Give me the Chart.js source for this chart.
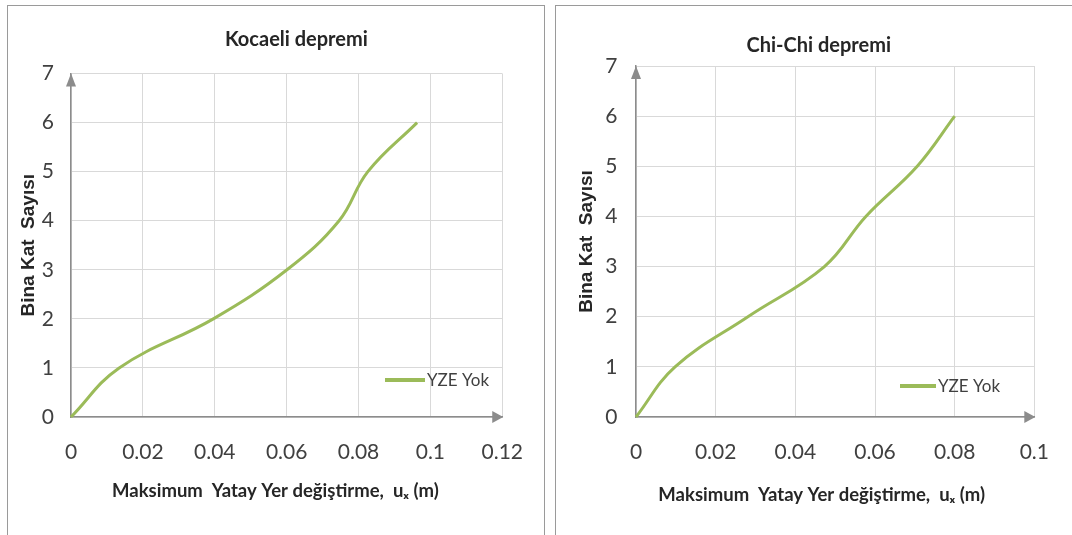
<!DOCTYPE html>
<html>
  <head>
    <meta charset="UTF-8" />
    <title>Kocaeli / Chi-Chi depremi</title>
    <style>
      html,
      body {
        margin: 0;
        padding: 0;
        width: 100%;
        height: 100%;
        background: #fff;
        overflow: hidden;
      }
      .panel {
        position: absolute;
        border: 1px solid #9a9a9a;
        box-sizing: border-box;
      }
      #panelLeft { left: 7px; top: 5px; width: 538px; height: 545px; }
      #panelRight { left: 555px; top: 5px; width: 540px; height: 545px; }
      .chart-box { position: absolute; top: 0; height: 535px; }
      #boxLeft { left: 0; width: 546px; }
      #boxRight { left: 546px; width: 526px; }
    </style>
    <script src="https://cdn.jsdelivr.net/npm/chart.js"></script>
  </head>
  <body>
    <div class="panel" id="panelLeft"></div>
    <div class="panel" id="panelRight"></div>
    <div class="chart-box" id="boxLeft"><canvas id="chartLeft"></canvas></div>
    <div class="chart-box" id="boxRight"><canvas id="chartRight"></canvas></div>
    <script>
      // veriler (kat sayısı - maksimum yatay yer değiştirme)
      const floors = [0, 1, 2, 3, 4, 5, 6];
      const kocaeliDisp = [0, 0.0134, 0.0396, 0.0601, 0.0746, 0.0826, 0.0963];
      const chichiDisp = [0, 0.0098, 0.0281, 0.0473, 0.0577, 0.0706, 0.08];
      const kocaeliXTicks = [0, 0.02, 0.04, 0.06, 0.08, 0.1, 0.12];
      const chichiXTicks = [0, 0.02, 0.04, 0.06, 0.08, 0.1];
      const yTicks = [0, 1, 2, 3, 4, 5, 6, 7];
      const seriesLabel = "YZE Yok";
      const yTitle = "Bina Kat  Sayısı";
      const xTitle = "Maksimum  Yatay Yer değiştirme,  uₓ (m)";

      const NARROW = '"Liberation Sans Narrow", "Arial Narrow", Lato, sans-serif';
      const GREEN = "#9bbb59";
      const AXIS = "#8c8c8c";
      const NB = "\u00a0";

      // ok uçları ve grafik içi lejant
      const decorations = {
        id: "decorations",
        afterDraw(chart, args, opts) {
          const { ctx, chartArea: a } = chart;
          ctx.save();
          ctx.fillStyle = AXIS;
          ctx.beginPath();
          ctx.moveTo(a.right + 1, a.bottom);
          ctx.lineTo(a.right - 10, a.bottom - 6);
          ctx.lineTo(a.right - 10, a.bottom + 6);
          ctx.closePath();
          ctx.fill();
          ctx.beginPath();
          ctx.moveTo(a.left, a.top);
          ctx.lineTo(a.left - 5, a.top + 13);
          ctx.lineTo(a.left + 5, a.top + 13);
          ctx.closePath();
          ctx.fill();

          const ds = chart.data.datasets[0];
          ctx.strokeStyle = ds.borderColor;
          ctx.lineWidth = 4;
          ctx.beginPath();
          ctx.moveTo(opts.x, opts.y);
          ctx.lineTo(opts.x + opts.len, opts.y);
          ctx.stroke();
          ctx.fillStyle = "#404040";
          ctx.font = "17px " + NARROW;
          ctx.textBaseline = "middle";
          ctx.textAlign = "left";
          ctx.fillText(ds.label, opts.x + opts.len + 2, opts.y + 1);
          ctx.restore();
        },
      };

      function makeConfig(p) {
        return {
          type: "scatter",
          data: {
            datasets: [
              {
                label: seriesLabel,
                data: p.xs.map((x, i) => ({ x: x, y: floors[i] })),
                showLine: true,
                borderColor: GREEN,
                backgroundColor: GREEN,
                borderWidth: 3,
                pointRadius: 0,
                tension: 0.4,
                clip: false,
              },
            ],
          },
          options: {
            responsive: true,
            maintainAspectRatio: false,
            animation: false,
            layout: { padding: p.padding },
            plugins: {
              legend: { display: false },
              tooltip: { enabled: false },
              title: {
                display: true,
                text: p.title,
                fullSize: p.titleFull,
                color: "#262626",
                font: { family: NARROW, size: 20, weight: "bold" },
                padding: p.titlePad,
              },
              decorations: p.legend,
            },
            scales: {
              x: {
                type: "linear",
                min: 0,
                max: p.xTicks[p.xTicks.length - 1],
                afterBuildTicks: (s) => {
                  s.ticks = p.xTicks.map((v) => ({ value: v }));
                },
                afterFit: (s) => {
                  s.height = p.xHeight;
                },
                grid: { color: "#d9d9d9", lineWidth: 1, drawTicks: false },
                border: { color: AXIS, width: 1.5 },
                ticks: {
                  autoSkip: false,
                  maxRotation: 0,
                  padding: 23,
                  color: "#404040",
                  font: { family: NARROW, size: 21 },
                  callback: (v) => String(v),
                },
                title: {
                  display: true,
                  text: xTitle + NB.repeat(p.xTitleShift),
                  color: "#262626",
                  font: { family: NARROW, size: 18.5, weight: "bold" },
                  padding: { top: 0, bottom: 0 },
                },
              },
              y: {
                type: "linear",
                min: 0,
                max: 7,
                afterBuildTicks: (s) => {
                  s.ticks = yTicks.map((v) => ({ value: v }));
                },
                afterFit: (s) => {
                  s.width = p.yWidth;
                },
                grid: { color: "#d9d9d9", lineWidth: 1, drawTicks: false },
                border: { color: AXIS, width: 1.5 },
                ticks: {
                  padding: p.yTickPad,
                  color: "#404040",
                  font: { family: NARROW, size: 21 },
                  callback: (v) => String(v),
                },
                title: {
                  display: true,
                  text: yTitle,
                  color: "#262626",
                  font: { family: '"Liberation Sans", Arial, sans-serif', size: 19, weight: "bold" },
                  padding: { top: 0, bottom: 0 },
                },
              },
            },
          },
          plugins: [decorations],
        };
      }

      new Chart(document.getElementById("chartLeft"), makeConfig({
        xs: kocaeliDisp,
        xTicks: kocaeliXTicks,
        title: NB.repeat(4) + "Kocaeli depremi",
        titleFull: false,
        titlePad: { top: 28, bottom: 21.5 },
        padding: { left: 17, right: 33.5, top: 0, bottom: 32.9 },
        xHeight: 85.1,
        yWidth: 54,
        yTickPad: 17,
        xTitleShift: 5,
        legend: { x: 385, y: 380, len: 40 },
      }));

      new Chart(document.getElementById("chartRight"), makeConfig({
        xs: chichiDisp,
        xTicks: chichiXTicks,
        title: NB.repeat(4) + "Chi-Chi depremi",
        titleFull: true,
        titlePad: { top: 34, bottom: 8 },
        padding: { left: 29, right: 29, top: 0, bottom: 28.9 },
        xHeight: 89.1,
        yWidth: 61,
        yTickPad: 18.5,
        xTitleShift: 6,
        legend: { x: 354, y: 386, len: 36 },
      }));
    </script>
  </body>
</html>
